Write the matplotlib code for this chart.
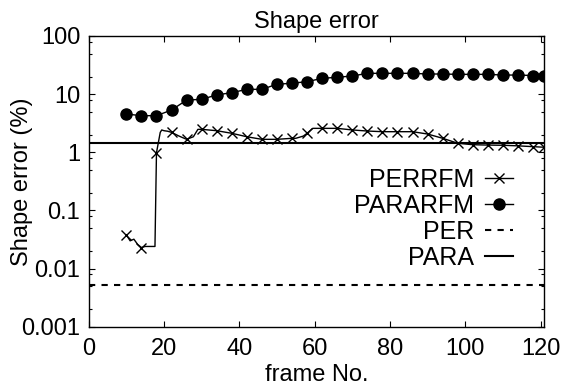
import matplotlib
matplotlib.use("Agg")
import matplotlib.pyplot as plt
from matplotlib.ticker import LogLocator, FixedLocator, NullFormatter

plt.rcParams['font.family'] = ['Liberation Sans', 'DejaVu Sans']

# PERRFM: per-frame readings, crosses every 4 frames
perrfm_frames = [10, 11, 12, 13, 14, 15, 16, 17, 17.6, 18, 19, 19.4, 20, 21, 22, 24, 26, 27.8, 29, 30,
                 34, 38, 42, 46, 50, 54, 55, 57, 58, 59.5, 62, 66, 70, 74, 78, 82, 86, 90,
                 94, 98, 102, 106, 110, 114, 118, 121]
perrfm = [0.038, 0.030, 0.032, 0.026, 0.023, 0.024, 0.024, 0.024, 0.024, 0.98, 2.2, 2.42, 2.35, 2.3, 2.2,
          1.9, 1.67, 1.85, 2.48, 2.48,
          2.35, 2.12, 1.85, 1.67, 1.67, 1.74, 1.74, 1.9, 2.12, 2.58, 2.58, 2.58, 2.42, 2.32, 2.26,
          2.26, 2.26, 2.06, 1.74, 1.43, 1.35, 1.33, 1.32, 1.29, 1.25, 1.22]
perrfm_marks = [10, 14, 18, 22, 26, 30, 34, 38, 42, 46, 50, 54, 58, 62, 66, 70, 74, 78, 82, 86,
                90, 94, 98, 102, 106, 110, 114, 118, 121]

pararfm_frames = [10, 14, 18, 22, 26, 30, 34, 38, 42, 46, 50, 54, 58, 62, 66, 70, 74, 78, 82, 86,
                  90, 94, 98, 102, 106, 110, 114, 118, 121]
pararfm = [4.55, 4.26, 4.26, 5.33, 7.9, 8.15, 9.7, 10.6, 12.1, 12.1, 14.8, 15.4, 16.4, 18.7, 19.5,
           20.5, 22.8, 22.8, 22.8, 22.8, 22.2, 22.2, 21.9, 21.9, 21.9, 21.3, 21.3, 20.9, 20.9]

per_level = 0.0052
para_level = 1.46

fig = plt.figure(figsize=(5.63, 3.85), dpi=100)
ax = fig.add_axes([88.7 / 563, 1 - 326.7 / 385, (544.3 - 88.7) / 563, (326.7 - 36) / 385])

mark_idx = [perrfm_frames.index(f) for f in perrfm_marks]
ax.plot(perrfm_frames, perrfm, color='black', lw=1.0, marker='x', markersize=6.5,
        markeredgewidth=1.0, markevery=mark_idx, label='PERRFM')
ax.plot(pararfm_frames, pararfm, color='black', lw=1.0, marker='o', markersize=8,
        label='PARARFM')
ax.axhline(per_level, color='black', lw=1.5, ls=(0, (3, 3)), label='PER')
ax.axhline(para_level, color='black', lw=1.5, label='PARA')

ax.set_yscale('log')
ax.set_xlim(0, 121)
ax.set_ylim(0.001, 100)
ax.set_xticks([0, 20, 40, 60, 80, 100, 120])
ax.yaxis.set_major_locator(FixedLocator([0.001, 0.01, 0.1, 1, 10, 100]))
ax.set_yticklabels(['0.001', '0.01', '0.1', '1', '10', '100'])
ax.yaxis.set_minor_locator(LogLocator(base=10, subs=(2, 5, 8)))
ax.yaxis.set_minor_formatter(NullFormatter())
ax.tick_params(which='both', direction='in', top=True, right=True, labelsize=17, width=0.8)
ax.tick_params(which='major', length=4)
ax.tick_params(axis='x', which='major', pad=8)
ax.tick_params(axis='y', which='major', pad=6)
ax.tick_params(which='minor', length=2)
for s in ax.spines.values():
    s.set_linewidth(1.0)

ax.set_title('Shape error', fontsize=17, pad=6)
ax.set_xlabel('frame No.', fontsize=17)
ax.set_ylabel('Shape error (%)', fontsize=17)
ax.xaxis.set_label_coords(0.5, -0.128)
ax.yaxis.set_label_coords(-0.122, 0.5)

ax.legend(loc='center right', bbox_to_anchor=(0.931, 0.37), frameon=False, markerfirst=False,
          fontsize=18, handlelength=1.1, handletextpad=0.45, labelspacing=0.08, borderpad=0,
          borderaxespad=0)

fig.savefig('out.png', dpi=100)
